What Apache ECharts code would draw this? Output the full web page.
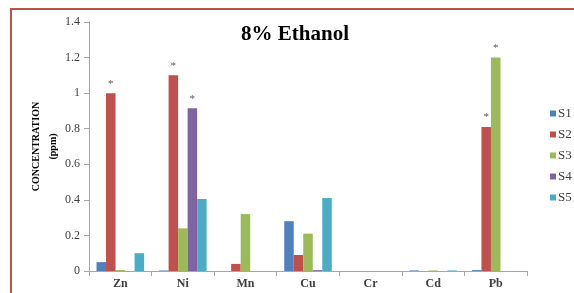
<!DOCTYPE html>
<html>
<head>
<meta charset="utf-8">
<script src="https://cdn.jsdelivr.net/npm/echarts@6/dist/echarts.min.js"></script>
<style>
html,body{margin:0;padding:0;background:#fff;}
#main{width:574px;height:293px;}
</style>
</head>
<body>
<div id="main"></div>
<script>
//类别和数据
var categories = ['Zn','Ni','Mn','Cu','Cr','Cd','Pb'];
var seriesNames = ['S1','S2','S3','S4','S5'];
var s1 = [0.05, 0.003, 0, 0.28, 0, 0.003, 0.005];
var s2 = [1.0, 1.1, 0.04, 0.09, 0, 0, 0.81];
var s3 = [0.005, 0.24, 0.32, 0.21, 0, 0.003, 1.2];
var s4 = [0, 0.915, 0, 0.005, 0, 0, 0];
var s5 = [0.1, 0.405, 0, 0.41, 0, 0.003, 0];
//标星号的柱子 (1表示显示*)
var star1 = [0,0,0,0,0,0,0];
var star2 = [1,1,0,0,0,0,1];
var star3 = [0,0,0,0,0,0,1];
var star4 = [0,1,0,0,0,0,0];
var star5 = [0,0,0,0,0,0,0];
var colors = ['#4F81BD','#C0504D','#9BBB59','#8064A2','#4BACC6'];

var allValues = [s1,s2,s3,s4,s5];
var allStars = [star1,star2,star3,star4,star5];

function buildData(vals, stars){
	return vals.map(function(v, i){
		if(stars[i]){
			return {value:v, label:{show:true, formatter:'*', position:'top', distance:4,
				color:'#595959', fontSize:11, fontFamily:'Liberation Serif'}};
		}
		return v;
	});
}

var series = seriesNames.map(function(name, k){
	return {
		name: name,
		type: 'bar',
		barGap: '0%',
		barCategoryGap: '24%',
		itemStyle: {color: colors[k]},
		data: buildData(allValues[k], allStars[k])
	};
});

var myChart = echarts.init(document.getElementById('main'));
myChart.setOption({
	animation: false,
	title: {
		text: '8% Ethanol',
		left: 290, top: 19, textAlign: 'center',
		textStyle: {fontFamily:'Liberation Serif', fontSize:21, fontWeight:'bold', color:'#000'}
	},
	graphic: [{
		type: 'rect', shape: {x:11, y:9, width:600, height:320},
		style: {fill:'none', stroke:'#C0504D', lineWidth:2}
	}],
	legend: {
		orient: 'vertical', left: 550, top: 107, padding: 0,
		itemWidth: 6, itemHeight: 6, itemGap: 8,
		icon: 'rect',
		textStyle: {fontFamily:'Liberation Serif', fontSize:13, color:'#404040', padding:[0,0,0,-3]},
		data: seriesNames
	},
	grid: {left: 89, right: 47, top: 22, bottom: 22, containLabel: false},
	xAxis: {
		type: 'category',
		data: categories,
		axisLine: {lineStyle:{color:'#A6A6A6'}},
		axisTick: {show:true, length:5, lineStyle:{color:'#A6A6A6'}},
		axisLabel: {fontFamily:'Liberation Serif', fontSize:12, fontWeight:'bold', color:'#404040', margin:7}
	},
	yAxis: {
		type: 'value',
		min: 0, max: 1.4, interval: 0.2,
		name: 'CONCENTRATION\n(ppm)',
		nameLocation: 'middle',
		nameRotate: 90,
		nameGap: 27,
		nameMoveOverlap: false,
		nameTextStyle: {fontFamily:'Liberation Serif', fontSize:10, fontWeight:'bold', color:'#000', lineHeight:17},
		axisLine: {show:true, lineStyle:{color:'#A6A6A6'}},
		axisTick: {show:true, length:5, lineStyle:{color:'#A6A6A6'}},
		splitLine: {show:false},
		axisLabel: {fontFamily:'Liberation Serif', fontSize:12, color:'#404040', margin:9,
			formatter: function(v){ return String(Math.round(v*10)/10); }}
	},
	series: series
});
</script>
</body>
</html>
